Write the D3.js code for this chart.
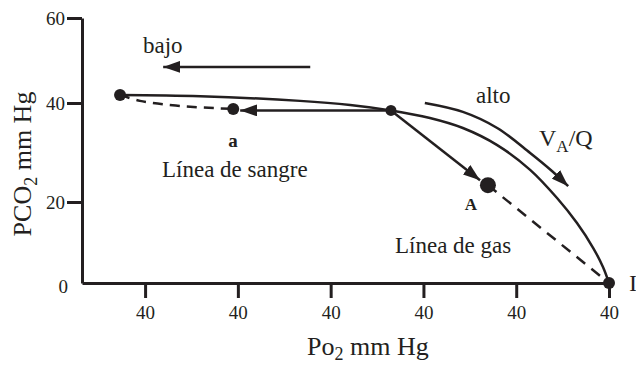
<!DOCTYPE html>
<html>
<head>
<meta charset="utf-8">
<script src="https://cdn.jsdelivr.net/npm/d3@7"></script>
<style>
body { margin: 0; background: #fff; }
svg { display: block; font-family: "Liberation Serif", "Times New Roman", serif; }
</style>
</head>
<body>
<svg id="chart" width="636" height="365"></svg>
<script>
// axis ticks
const xTicks = [20, 40, 60, 80, 100, 120];
const xTickLabels = ["40", "40", "40", "40", "40", "40"];
const yTicks = [0, 20, 40, 60];
const yTickLabels = ["0", "20", "40", "60"];

// VA/Q line (Po2, PCO2)
const vaqPo2 = [14.6, 31.9, 53.4, 64.2, 73.0, 81.4, 88.5, 95.9, 103.0, 108.8, 113.1, 116.6, 118.7, 120];
const vaqPco2 = [41.9, 41.6, 40.5, 39.6, 38.5, 36.97, 34.95, 31.5, 26.5, 20.8, 14.8, 8.64, 3.95, 0];

// blood line (dashed) v -> a
const bloodPo2 = [14.6, 18.9, 27.5, 39];
const bloodPco2 = [41.9, 40.5, 39.4, 38.8];

// gas line (dashed) A -> I
const gasPo2 = [93.9, 120];
const gasPco2 = [23.4, 0];

// points: v, a, mid, A, I
const dotNames = ["v", "a", "m", "A", "I"];
const dotPo2 = [14.6, 39, 73.0, 93.9, 120];
const dotPco2 = [41.9, 38.8, 38.5, 23.4, 0];

// straight arrows: bajo, mid -> a, mid -> A
const arrowFromPo2 = [55.6, 73.0, 73.0];
const arrowFromPco2 = [48.5, 38.5, 38.5];
const arrowToPo2 = [23.9, 40.5, 92.2];
const arrowToPco2 = [48.5, 38.5, 24.4];

// curved "alto" arrow
const altoPo2 = [80.3, 88.5, 95.9, 103.0, 107.7, 111.2];
const altoPco2 = [40.0, 38.2, 34.95, 29.9, 26.26, 23.2];

const ink = "#231f20";
const serif = "Liberation Serif";
const svg = d3.select("#chart");

const x = d3.scaleLinear().domain([6.4, 120]).range([82, 609]);
const y = d3.scaleLinear().domain([0, 20, 40, 60]).range([283, 202, 103, 18]);

svg.append("defs").append("marker")
    .attr("id", "head")
    .attr("viewBox", "0 -6 17 12")
    .attr("markerUnits", "userSpaceOnUse")
    .attr("markerWidth", 17)
    .attr("markerHeight", 12)
    .attr("refX", 17)
    .attr("refY", 0)
    .attr("orient", "auto")
    .append("path")
    .attr("d", "M0,-6L17,0L0,6Z")
    .attr("fill", ink);

// axes
const gx = svg.append("g")
    .attr("transform", "translate(0,283)")
    .call(d3.axisBottom(x).tickValues(xTicks)
        .tickFormat((d, i) => xTickLabels[i])
        .tickSize(15).tickSizeOuter(0).tickPadding(8));

const gy = svg.append("g")
    .attr("transform", "translate(82,0)")
    .call(d3.axisLeft(y).tickValues(yTicks)
        .tickFormat((d, i) => yTickLabels[i])
        .tickSize(15).tickSizeOuter(0).tickPadding(2));

[gx, gy].forEach(g => {
    g.attr("font-family", serif);
    g.select(".domain").attr("stroke", ink).attr("stroke-width", 3);
    g.selectAll(".tick line").attr("stroke", ink).attr("stroke-width", 3);
    g.selectAll(".tick text")
        .attr("fill", ink)
        .attr("font-family", serif)
        .attr("font-size", 19);
});
gy.selectAll(".tick").filter(d => d === 0).select("line").remove();
gy.selectAll(".tick").filter(d => d === 0).select("text").attr("x", -14).attr("dy", "0.5em");

const line = d3.line()
    .x(d => x(d[0]))
    .y(d => y(d[1]))
    .curve(d3.curveCatmullRom);

// VA/Q line
svg.append("path")
    .attr("d", line(d3.zip(vaqPo2, vaqPco2)))
    .attr("fill", "none").attr("stroke", ink).attr("stroke-width", 2.5);

// blood and gas lines
svg.append("path")
    .attr("d", line(d3.zip(bloodPo2, bloodPco2)))
    .attr("fill", "none").attr("stroke", ink).attr("stroke-width", 2.5)
    .attr("stroke-dasharray", "10,7");

svg.append("path")
    .attr("d", line(d3.zip(gasPo2, gasPco2)))
    .attr("fill", "none").attr("stroke", ink).attr("stroke-width", 2.5)
    .attr("stroke-dasharray", "11,8");

// arrows
svg.selectAll(".arrow")
    .data(d3.range(arrowFromPo2.length))
    .enter().append("line")
    .attr("class", "arrow")
    .attr("x1", i => x(arrowFromPo2[i]))
    .attr("y1", i => y(arrowFromPco2[i]))
    .attr("x2", i => x(arrowToPo2[i]))
    .attr("y2", i => y(arrowToPco2[i]))
    .attr("stroke", ink).attr("stroke-width", 2.5)
    .attr("marker-end", "url(#head)");

svg.append("path")
    .attr("d", line(d3.zip(altoPo2, altoPco2)))
    .attr("fill", "none").attr("stroke", ink).attr("stroke-width", 2.5)
    .attr("marker-end", "url(#head)");

// points
svg.selectAll(".dot")
    .data(dotNames)
    .enter().append("circle")
    .attr("class", "dot")
    .attr("cx", (d, i) => x(dotPo2[i]))
    .attr("cy", (d, i) => y(dotPco2[i]))
    .attr("r", d => d === "A" ? 8 : (d === "m" ? 5.5 : 6))
    .attr("fill", ink);

// labels
function label(tx, ty, txt, size, opts = {}) {
    return svg.append("text")
        .attr("x", tx).attr("y", ty)
        .attr("font-family", serif)
        .attr("font-size", size)
        .attr("fill", ink)
        .attr("text-anchor", opts.anchor || "start")
        .attr("font-weight", opts.bold ? "bold" : "normal")
        .text(txt);
}

label(143, 53, "bajo", 23);
label(476, 103, "alto", 23);
const vq = label(539, 146, "V", 24);
vq.append("tspan").attr("dy", 6).attr("font-size", 17).text("A");
vq.append("tspan").attr("dy", -6).text("/Q");
label(233, 147, "a", 19, {anchor: "middle", bold: true});
label(162, 177, "Línea de sangre", 23);
label(471, 210, "A", 17, {anchor: "middle", bold: true});
label(395, 253, "Línea de gas", 23);
label(629, 291, "I", 24);

// axis titles
const xt = label(307, 355, "Po", 26);
xt.append("tspan").attr("dy", 5).attr("font-size", 18).text("2");
xt.append("tspan").attr("dy", -5).text(" mm Hg");

const yt = svg.append("text")
    .attr("transform", "translate(31,164) rotate(-90)")
    .attr("text-anchor", "middle")
    .attr("font-family", serif)
    .attr("font-size", 26)
    .attr("fill", ink)
    .text("PCO");
yt.append("tspan").attr("dy", 6).attr("font-size", 18).text("2");
yt.append("tspan").attr("dy", -6).text(" mm Hg");
</script>
</body>
</html>
